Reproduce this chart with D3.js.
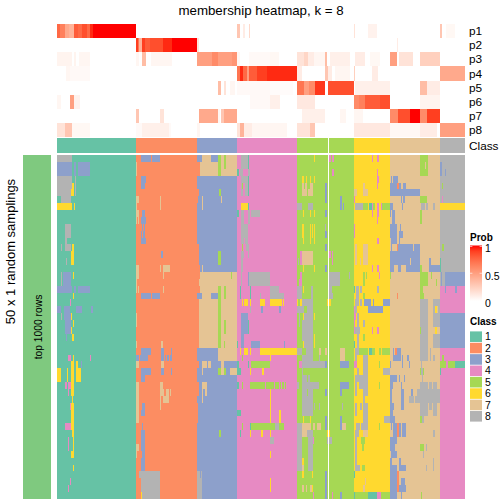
<!DOCTYPE html>
<html><head><meta charset="utf-8">
<script src="https://cdn.jsdelivr.net/npm/d3@7"></script>
<style>html,body{margin:0;padding:0;background:#fff}svg{display:block}text{font-family:"Liberation Sans",Arial,sans-serif;fill:#000}</style>
</head><body><svg id="c" width="504" height="504"></svg>
<script>
const TITLE = "membership heatmap, k = 8";
const ROW_TITLE = "50 x 1 random samplings";
const BAR_TITLE = "top 1000 rows";
const PROB_NAMES = ["p1","p2","p3","p4","p5","p6","p7","p8"];
const CLASS_IDS = [1,2,3,4,5,6,7,8];
const PROB_TICKS = [1,0.5,0];
const N_COLS = 408;
const N_ROWS = 50;
const GAP_COLUMN = 271;
// sample class per column: [firstColumn, endColumn, class]
const columnClass = [[0,79,1],[79,140,2],[140,180,3],[180,240,4],[240,297,5],[297,333,6],[333,383,7],[383,408,8]];
// membership probability runs "first-end:value"
const p1 = "0-3:.75 3-8:.65 8-12:.45 12-17:.4 17-21:.8 21-25:.75 25-30:.85 30-33:.75 33-36:.95 36-79:1 180-183:.3 186-188:.1 192-193:.2 297-298:.15 311-320:.07 383-385:.3 389-398:.04";
const p2 = "79-81:.9 81-82:.7 82-85:.4 85-88:.9 88-93:.8 93-106:.85 106-115:.95 115-140:1 140-142:.15 340-341:.1";
const p3 = "0-15:.06 17-19:.06 22-33:.05 79-82:.05 85-89:.35 94-115:.05 140-155:.5 155-161:.6 161-175:.5 175-180:.55 180-183:.05 192-213:.03 213-222:.04 240-247:.15 247-251:.22 251-257:.1 257-268:.05 268-270:.35 273-293:.08 298-308:.1 313-323:.04 333-340:.5 342-356:.15 363-383:.25";
const p4 = "9-13:.05 13-33:.03 180-183:.7 183-186:.95 186-190:.75 190-192:.5 192-200:.8 200-210:.9 210-240:.95 240-245:.1 268-271:.3 271-275:.1 278-293:.05 297-298:.25 315-321:.1 383-408:.45";
const p5 = "161-164:.35 167-169:.15 173-178:.05 180-213:.03 213-236:.02 240-247:.7 247-252:.5 252-258:.6 258-268:.92 271-297:.85 298-333:.08 363-370:.35 370-383:.1";
const p6 = "0-4:.05 13-17:.5 17-23:.07 193-213:.03 213-223:.08 240-258:.12 297-302:.6 302-308:.65 308-323:.8 323-333:.85 363-383:.06";
const p7 = "79-82:.3 103-107:.15 142-161:.45 161-163:.05 164-167:.3 167-180:.45 245-268:.08 283-289:.05 297-306:.05 333-341:.6 341-353:.85 353-363:1 363-370:.6 370-383:.9";
const p8 = "0-8:.15 8-15:.3 15-33:.04 79-85:.03 85-112:.08 112-114:.03 140-143:.05 180-183:.15 183-187:.4 187-195:.1 195-230:.05 240-253:.15 253-258:.3 297-333:.12 333-363:.04 363-380:.1 383-408:.5";
const probRuns = [p1,p2,p3,p4,p5,p6,p7,p8];
// sample matrix: per row, departures from the column's class "first-end:class"
const rowRuns = [
"0-15:8 84-94:3 95-103:3 140-145:3 145-154:7 154-161:3 161-164:5 164-167:7 167-169:5 169-180:7 184-191:8 191-192:1 257-258:6 272-274:4 275-277:4 315-316:4 320-322:4 363-371:5",
"0-15:3 17-19:3 21-33:3 79-80:7 140-143:2 143-180:7 161-164:5 167-169:5 184-191:8 191-192:1 363-371:5 368-369:7 383-385:3",
"0-15:3 17-19:3 21-33:3 79-80:7 140-143:2 143-180:7 161-164:5 180-182:1 183-186:8 191-193:8 275-277:4 320-321:4 363-371:5 383-385:3 388-389:3",
"0-15:8 18-19:8 84-89:3 184-191:8 191-192:1 245-247:6 249-250:6 253-254:6 257-258:6 320-322:4 334-335:3 336-341:3",
"0-15:8 15-17:6 18-19:8 84-88:3 184-186:8 185-186:5 188-191:8 191-192:1 245-247:7 248-250:7 253-256:7 268-270:3 306-308:7 320-321:4 333-340:3 340-342:2 342-344:3 346-349:3 385-386:5",
"0-15:8 14-17:6 18-19:8 140-142:2 162-164:5 184-186:8 188-191:8 191-192:1 245-250:7 251-256:7 268-270:3 297-300:7 306-311:7 333-363:3",
"4-14:8 79-82:7 103-104:7 140-141:2 145-146:7 164-165:7 268-270:3 283-285:3 297-298:4 344-345:3 346-348:3 363-370:5 385-386:4",
"0-15:6 17-18:6 79-80:7 103-104:7 145-146:7 184-191:6 191-192:1 240-245:8 251-256:8 283-285:3 286-287:3 298-306:8 306-311:5 312-315:1 315-316:4 316-318:5 320-322:4 324-325:4 325-333:5 333-336:3 345-346:3 364-368:8 369-371:8 376-378:8 383-408:6",
"79-82:7 85-88:3 180-182:1 184-187:8 191-193:8 194-203:8 246-247:6 253-254:6 257-258:6 268-270:3 315-316:4 320-322:4 333-334:3 335-338:3 363-365:5",
"79-80:7 81-82:7 84-89:3 184-187:8 191-193:8 320-321:4 335-338:3 363-365:5",
"8-14:8 85-86:3 87-88:3 184-191:8 245-247:6 253-254:6 255-256:6 257-258:6 268-269:8 297-298:4 333-340:3 343-344:3",
"8-14:8 84-85:3 86-88:3 184-191:8 245-247:6 253-254:6 255-256:6 257-258:6 268-270:3 297-298:4 333-340:3 342-346:3",
"8-10:8 84-89:3 184-187:8 188-191:8 246-247:6 253-254:6 257-258:6 320-322:4 334-340:3 342-343:3",
"4-5:8 8-14:8 15-17:6 140-142:2 185-186:5 189-192:8 268-270:3 298-300:7 306-311:7 334-335:3 340-341:2 341-356:3 357-363:3 385-387:5",
"14-17:6 104-106:3 140-142:2 161-164:5 184-187:8 191-192:8 243-245:4 245-256:7 272-274:4 275-276:4 298-300:7 306-311:7 333-363:3",
"9-10:8 14-17:6 140-142:2 161-164:5 184-186:8 241-242:8 243-245:4 245-256:7 275-276:4 298-300:7 303-304:7 306-311:7 333-353:3 354-363:3 372-374:3 383-384:1",
"79-82:7 103-104:7 106-113:7 140-143:2 145-146:7 184-186:8 246-247:6 257-258:6 268-270:3 315-316:4 320-322:4 333-337:3 341-344:3 349-363:3 363-365:5 372-383:3 383-384:1",
"4-5:8 6-14:3 16-17:6 79-82:7 106-107:7 140-143:2 143-180:7 174-175:5 184-185:8 191-192:3 192-213:8 243-245:4 272-283:8 292-293:8 306-308:5 309-310:5 322-323:4 333-334:5 363-371:5 374-375:5 384-385:3 388-408:3",
"4-5:8 6-14:3 79-80:7 140-142:2 142-180:7 184-185:8 191-192:3 192-213:8 242-245:4 272-283:8 306-308:5 363-371:5 379-380:5 384-385:3 388-408:3",
"0-15:3 17-19:3 21-33:3 79-80:7 81-82:7 106-107:7 140-143:2 143-180:7 161-164:5 167-169:5 183-184:1 193-194:1 213-222:8 240-245:8 246-247:6 254-256:8 272-275:8 297-298:1 299-302:8 303-305:8 320-322:8 363-366:5 383-408:4 388-389:3 398-400:3",
"16-17:6 84-94:3 95-103:3 145-154:7 161-164:5 164-167:7 167-169:5 169-180:7 183-184:1 193-194:1 203-204:8 213-227:8 240-245:8 254-256:8 272-276:8 299-302:8 306-308:5 340-341:2 363-367:5 383-408:4",
"13-14:4 140-142:2 142-180:7 161-164:5 185-186:6 187-191:6 193-194:6 203-208:6 213-225:6 226-227:6 240-241:6 243-245:6 245-256:8 270-274:6 298-302:8 303-305:8 307-314:3 316-317:3 326-333:3 363-371:8 376-383:8 383-408:4",
"0-4:3 7-13:3 19-25:3 34-36:3 140-142:2 142-180:7 161-164:5 193-194:8 204-206:3 222-224:3 240-247:8 250-256:8 297-298:4 298-300:8 311-326:3 363-371:8 376-378:8 378-380:6 381-383:8 383-408:4",
"4-5:8 7-14:3 14-15:6 79-80:7 140-142:2 142-180:7 161-164:5 184-191:3 242-243:8 246-247:6 247-256:8 257-258:6 297-299:4 300-302:8 363-371:8 376-383:8 383-408:3",
"8-14:3 16-17:6 79-80:7 140-142:2 142-180:7 161-164:5 167-169:5 184-191:3 191-192:1 242-243:8 245-256:8 297-298:4 300-302:8 306-308:8 363-371:8 376-383:8 383-408:3",
"8-14:3 14-15:6 140-142:2 142-180:7 161-164:5 167-169:5 184-191:3 191-192:1 245-256:8 297-298:4 298-303:8 315-316:4 320-322:4 363-364:5 364-371:8 378-380:6 383-408:3",
"9-10:3 15-17:6 140-142:2 142-180:7 161-164:5 184-187:3 245-256:8 257-258:6 300-302:8 306-308:5 363-371:8 376-383:8 383-408:3",
"79-80:7 104-106:7 140-142:2 142-180:7 161-164:5 167-168:5 180-181:1 184-187:3 194-203:3 227-228:3 246-247:6 247-256:8 257-258:6 297-298:1 300-302:8 363-371:8 376-383:8 383-408:3",
"84-94:3 104-107:3 114-115:3 161-180:7 183-184:6 187-191:6 193-194:6 203-240:6 240-245:8 249-256:8 262-264:7 268-270:7 283-288:7 298-302:8 302-311:5 312-315:1 315-318:5 322-324:5 325-333:5 336-337:3 338-340:2 340-344:3 363-371:8 373-374:8 383-408:4",
"11-14:4 16-17:6 33-34:4 79-82:3 83-91:3 104-107:3 108-109:3 110-112:3 113-115:3 161-180:7 185-186:5 213-214:6 245-256:8 262-263:8 283-288:7 298-300:8 306-311:8 336-344:3 345-346:3 350-352:3 363-371:8 373-374:8 376-378:8 383-408:4 385-387:5",
"14-17:6 19-21:6 24-25:3 79-82:7 104-107:7 140-142:2 145-150:7 151-154:7 164-167:7 180-182:1 191-192:1 194-213:5 242-245:4 245-268:8 268-270:3 283-292:3 297-300:4 306-311:8 322-323:5 333-334:3 345-346:3 352-353:3 364-365:8 383-389:5 389-391:4 391-398:5 398-408:1",
"0-4:6 10-11:6 14-17:6 19-24:6 84-94:3 104-107:3 114-115:3 145-146:7 161-164:5 164-167:7 167-169:5 173-180:7 180-184:1 193-194:6 205-207:6 245-246:8 300-302:8 306-311:8 326-333:8 363-367:5 364-366:8 383-408:4 383-384:1",
"0-4:6 10-11:6 14-17:6 19-24:6 84-88:3 245-250:8 251-253:8 298-311:8 333-340:3 342-343:3 347-348:3 365-366:8 383-408:4",
"8-10:4 11-14:4 14-17:6 79-82:7 103-106:7 140-142:2 145-150:7 180-182:1 185-186:5 193-208:5 209-217:5 218-222:5 223-224:5 225-227:5 228-229:5 240-242:8 245-262:8 283-292:3 298-300:8 302-311:8 322-323:5 333-336:3 344-345:3 363-371:8 372-375:8 376-380:8 383-408:4",
"11-12:4 14-17:6 79-82:7 103-107:7 109-112:7 113-114:7 140-142:2 145-146:7 148-150:7 213-214:6 245-250:8 251-256:8 268-270:3 283-285:3 298-300:8 306-311:8 333-335:3 344-347:3 354-356:3 360-383:8 383-408:4",
"15-16:6 79-82:7 103-104:7 106-112:7 145-146:7 213-214:6 245-256:8 306-308:8 333-335:3 344-347:3 352-357:8 358-383:8 383-408:4",
"13-14:4 14-17:6 79-82:7 85-88:3 103-104:7 140-141:2 213-214:6 245-256:8 257-258:8 262-263:8 285-286:8 298-300:8 303-305:8 306-311:8 333-337:3 344-347:3 363-371:8 372-375:8 376-380:8 383-408:4",
"14-17:6 79-82:7 84-88:3 140-141:2 180-184:1 213-214:6 222-224:6 245-256:8 298-300:8 306-311:8 333-336:3 363-371:8 376-380:8 383-408:4",
"14-17:6 79-82:7 140-141:2 213-214:6 222-224:6 246-247:6 253-254:6 268-270:3 283-285:3 306-311:8 327-333:8 333-338:3 363-365:5 365-367:8 383-408:4",
"8-14:4 14-17:6 85-86:3 185-186:5 193-194:1 194-218:5 218-222:8 222-227:5 240-245:8 245-254:7 256-258:7 260-264:7 268-270:3 283-285:3 285-289:7 299-303:8 304-311:8 322-323:5 334-335:3 336-340:3 340-342:2 342-344:3 345-349:3 383-408:4",
"15-17:6 84-88:3 162-164:5 183-184:1 193-194:6 204-206:6 213-214:6 240-245:8 245-250:7 250-256:8 270-273:6 298-302:8 306-311:7 336-340:3 340-342:2 342-344:3 345-349:3 376-378:8 383-408:4",
"11-12:4 16-17:6 84-88:3 213-217:8 240-245:8 251-256:8 256-257:4 270-275:8 298-300:8 304-308:5 333-340:3 383-408:4",
"11-12:4 16-17:6 79-82:7 84-88:3 240-245:8 251-256:8 298-300:8 305-307:5 333-338:3 363-367:5 369-370:8 383-408:4",
"14-17:6 79-80:7 85-88:3 213-214:6 240-245:8 251-256:8 298-300:8 334-340:3 366-367:8 383-408:4",
"84-88:3 240-245:8 245-247:6 251-256:8 298-300:8 333-335:3 342-344:3 376-377:8 383-408:4",
"16-17:6 84-88:3 240-245:8 245-247:7 251-256:8 298-303:8 305-308:5 333-340:3 342-349:3 369-370:8 376-377:8 383-408:4",
"82-103:8 140-143:8 144-145:8 245-247:6 255-256:6 268-270:3 297-298:1 333-340:3 340-342:2 383-408:4",
"13-14:4 84-103:8 140-145:8 213-214:6 268-270:3 308-309:7 333-340:3 340-342:2 344-348:3 383-408:4",
"11-12:4 84-103:8 140-145:8 213-214:6 245-247:7 249-250:7 253-255:7 255-256:6 268-270:3 306-308:7 333-340:3 340-342:2 342-349:3 383-408:4",
"84-103:8 84-85:6 140-145:8 256-257:4 268-270:3 275-276:4 283-285:3 297-298:1 298-311:5 311-320:1 320-324:4 324-333:5 333-340:3 344-345:3 364-365:5 383-408:4"
];

const parseRuns = s => s.split(" ").map(t => { const [r,v] = t.split(":"); const [a,b] = r.split("-").map(Number); return {a,b,v:+v}; });
const baseRow = new Array(N_COLS).fill(0);
columnClass.forEach(([a,b,c]) => { for (let i=a;i<b;i++) baseRow[i]=c; });
baseRow[GAP_COLUMN]=0;
const matrix = rowRuns.map(s => { const r = baseRow.slice(); parseRuns(s).forEach(({a,b,v}) => { for(let i=a;i<b;i++) r[i]=v; }); r[GAP_COLUMN]=0; return r; });
const probMatrix = probRuns.map(s => { const r = new Array(N_COLS).fill(0); parseRuns(s).forEach(({a,b,v}) => { for(let i=a;i<b;i++) r[i]=v; }); return r; });
const merge = arr => { const out=[]; arr.forEach((v,i)=>{ const l=out[out.length-1]; if(l&&l.v===v) l.e=i+1; else out.push({s:i,e:i+1,v}); }); return out; };

const svg = d3.select("#c");
const x = d3.scaleBand().domain(d3.range(N_COLS)).range([57,465]);
const xl = i => i<N_COLS ? x(i) : 465;
const yMain = d3.scaleBand().domain(d3.range(N_ROWS)).range([155,499]);
const yProb = d3.scaleBand().domain(PROB_NAMES).range([24,137]);
const classColor = d3.scaleOrdinal().domain(CLASS_IDS).range(d3.schemeSet2);
const probColor = d3.scaleLinear().domain([0,1]).range(["#ffffff","#ff0000"]).interpolate(d3.interpolateLab);
const colorOf = v => v===0 ? "#ffffff" : classColor(v);

// probability heatmap
const gp = svg.append("g").attr("shape-rendering","crispEdges");
PROB_NAMES.forEach((n,k)=>{
  gp.selectAll(null).data(merge(probMatrix[k]).filter(d=>d.v>0)).join("rect")
    .attr("x",d=>x(d.s)).attr("width",d=>xl(d.e)-x(d.s)).attr("y",yProb(n)).attr("height",yProb.bandwidth())
    .attr("fill",d=>probColor(d.v));
});
svg.append("g").selectAll("text").data(PROB_NAMES).join("text")
  .attr("x",469).attr("y",d=>yProb(d)+yProb.bandwidth()/2).attr("dy","0.35em").attr("font-size",11.8).text(d=>d);

// class annotation
svg.append("g").attr("shape-rendering","crispEdges").selectAll("rect").data(merge(baseRow)).join("rect")
  .attr("x",d=>x(d.s)).attr("width",d=>xl(d.e)-x(d.s)).attr("y",138).attr("height",15).attr("fill",d=>colorOf(d.v));
svg.append("text").attr("x",469).attr("y",145.5).attr("dy","0.35em").attr("font-size",11.8).text("Class");

// main matrix
const gm = svg.append("g").attr("shape-rendering","crispEdges");
matrix.forEach((row,r)=>{
  gm.selectAll(null).data(merge(row)).join("rect")
    .attr("x",d=>x(d.s)).attr("width",d=>xl(d.e)-x(d.s)).attr("y",yMain(r)).attr("height",yMain.bandwidth())
    .attr("fill",d=>colorOf(d.v));
});

// left bar and titles
svg.append("rect").attr("x",23).attr("y",155).attr("width",28).attr("height",344).attr("fill","#7FC97F");
svg.append("text").attr("transform","translate(38,327) rotate(-90)").attr("text-anchor","middle").attr("dy","0.35em").attr("font-size",10.3).text(BAR_TITLE);
svg.append("text").attr("transform","translate(10,251.5) rotate(-90)").attr("text-anchor","middle").attr("dy","0.35em").attr("font-size",13).text(ROW_TITLE);
svg.append("text").attr("x",261).attr("y",10).attr("text-anchor","middle").attr("dy","0.35em").attr("font-size",13.3).text(TITLE);

// probability legend
const defs = svg.append("defs");
const grad = defs.append("linearGradient").attr("id","pg").attr("x1",0).attr("x2",0).attr("y1",1).attr("y2",0);
d3.range(0,1.01,0.1).forEach(t=>grad.append("stop").attr("offset",t).attr("stop-color",probColor(t)));
const yLegend = d3.scaleLinear().domain([0,1]).range([301,245.5]);
svg.append("text").attr("x",470).attr("y",237).attr("dy","0.35em").attr("font-size",10).attr("font-weight","bold").text("Prob");
svg.append("rect").attr("x",470).attr("y",yLegend(1)).attr("width",12).attr("height",yLegend(0)-yLegend(1)).attr("fill","url(#pg)");
svg.append("g").selectAll("line").data([1,0.5]).join("line")
  .attr("y1",d=>yLegend(d)+(d===1?1:0)).attr("y2",d=>yLegend(d)+(d===1?1:0)).attr("x1",470).attr("x2",482)
  .attr("stroke","#fff").attr("stroke-opacity",0.6).attr("stroke-dasharray","2.4 7.2");
svg.append("g").selectAll("text").data(PROB_TICKS).join("text")
  .attr("x",485).attr("y",d=>d===1?248:d===0?303.5:276).attr("dy","0.35em").attr("font-size",10.5).text(d=>d);

// class legend
const yClass = d3.scaleBand().domain(CLASS_IDS).range([331,422]);
svg.append("text").attr("x",470).attr("y",321).attr("dy","0.35em").attr("font-size",10).attr("font-weight","bold").text("Class");
svg.append("g").selectAll("rect").data(CLASS_IDS).join("rect")
  .attr("x",470).attr("width",12).attr("y",d=>yClass(d)+0.4).attr("height",yClass.bandwidth()-0.8).attr("fill",d=>classColor(d));
svg.append("g").selectAll("text").data(CLASS_IDS).join("text")
  .attr("x",485).attr("y",d=>yClass(d)+yClass.bandwidth()/2).attr("dy","0.35em").attr("font-size",10.5).text(d=>d);
</script></body></html>
